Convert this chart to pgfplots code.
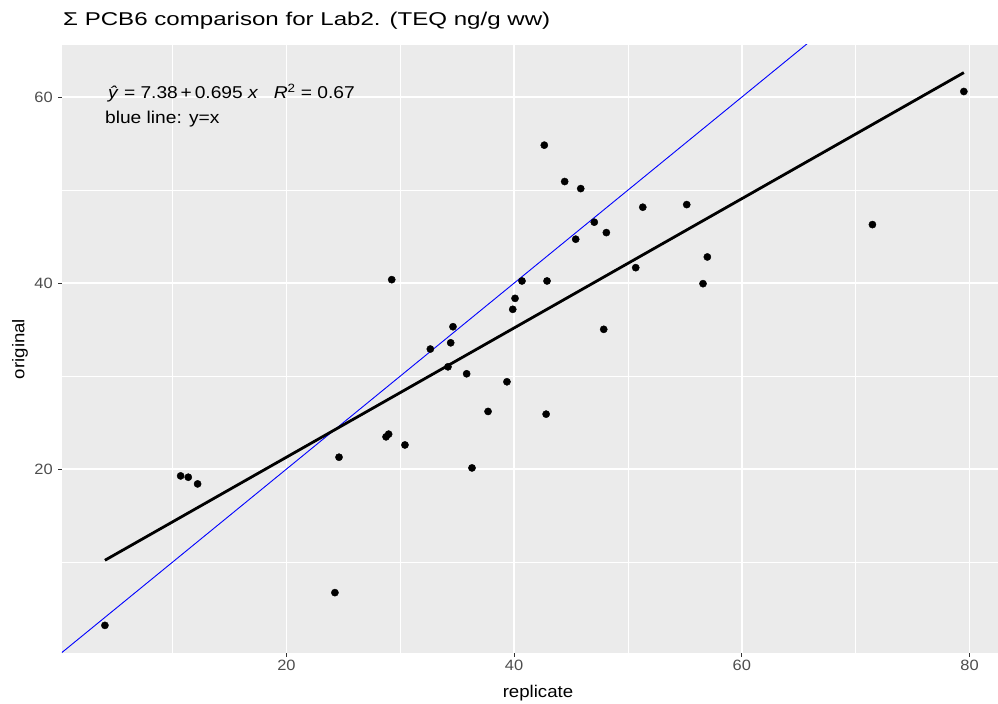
\documentclass[border=0pt]{standalone}
\usepackage{fontspec}
\setmainfont{Liberation Sans}[FakeStretch=1.1]
\newfontfamily\titlefont{Liberation Sans}[FakeStretch=1.3]
\newfontfamily\annfont{Liberation Sans}[FakeStretch=1.12]
\usepackage{pgfplots}
\usepackage{pgfplotstable}
\pgfplotsset{compat=1.18}
\definecolor{panelbg}{HTML}{EBEBEB}
\definecolor{ticklab}{HTML}{4D4D4D}
\definecolor{tickcol}{HTML}{333333}

\pgfplotstableread{
x y
4.06 3.20
10.71 19.27
11.38 19.13
12.20 18.41
24.26 6.72
24.62 21.28
28.75 23.47
28.98 23.76
29.25 40.37
30.41 22.60
32.64 32.91
34.19 31.00
34.43 33.58
34.63 35.31
35.83 30.25
36.30 20.13
37.71 26.20
39.37 29.39
39.88 37.18
40.08 38.36
40.69 40.23
42.65 54.83
42.89 40.23
42.81 25.91
44.44 50.92
45.41 44.72
45.85 50.16
47.04 46.55
47.87 35.03
48.10 45.43
50.68 41.66
51.30 48.16
55.16 48.44
56.59 39.94
56.97 42.81
71.47 46.29
79.50 60.60
}\pointdata

\begin{document}
\begin{tikzpicture}
\useasboundingbox (-62bp,-51bp) rectangle (936bp,653bp);
\begin{axis}[
  at={(0,0)}, anchor=south west,
  scale only axis, width=936bp, height=608bp,
  xmin=0.29, xmax=82.5, ymin=0.23, ymax=65.6,
  axis background/.style={fill=panelbg},
  axis line style={draw=none},
  xtick={20,40,60,80}, ytick={20,40,60},
  minor xtick={10,30,50,70}, minor ytick={10,30,50},
  grid=both,
  major grid style={white, line width=1.4bp},
  minor grid style={white, line width=0.7bp},
  tick pos=left, tick align=outside,
  major tick length=3.7bp, minor tick length=0bp,
  major tick style={tickcol, line width=0.9bp},
  /pgf/number format/assume math mode=true,
  ticklabel style={font=\fontsize{15}{16}\selectfont, text=ticklab},
  yticklabel style={xshift=-2bp},
  xlabel={replicate}, ylabel={original},
  label style={font=\fontsize{17}{19}\selectfont, inner sep=0pt},
  xlabel style={at={(rel axis cs:0.5085,0)}, anchor=base, yshift=-44bp},
  ylabel style={at={([xshift=-42bp]rel axis cs:0,0.5)}, anchor=center},
  clip mode=individual,
]
\addplot[blue, line width=0.9bp] coordinates {(0,0) (70,70)};
\addplot[black, line width=2.8bp] coordinates {(4.06,10.20) (79.50,62.63)};
\addplot[only marks, mark=*, mark size=3.6bp, mark options={fill=black, draw=black}] table[x=x,y=y] {\pointdata};
\node[anchor=base west, inner sep=0pt, font=\titlefont\fontsize{18.6}{20}\selectfont] at (rel axis cs:0,1) [xshift=1bp, yshift=19bp] {Σ PCB6 comparison for Lab2. (TEQ ng/g ww)};
\node[anchor=base west, inner sep=0pt, font=\annfont\fontsize{17.2}{19}\selectfont] at (axis cs:4.06,59.8) [xshift=3bp] {\textit{\^{y}} = 7.38\,+\,0.695 \textit{x}\hspace{0.9em}\textit{R}\textsuperscript{2} = 0.67};
\node[anchor=base west, inner sep=0pt, font=\annfont\fontsize{17.2}{19}\selectfont] at (axis cs:4.06,57.2) {blue line: y=x};
\end{axis}
\end{tikzpicture}
\end{document}
